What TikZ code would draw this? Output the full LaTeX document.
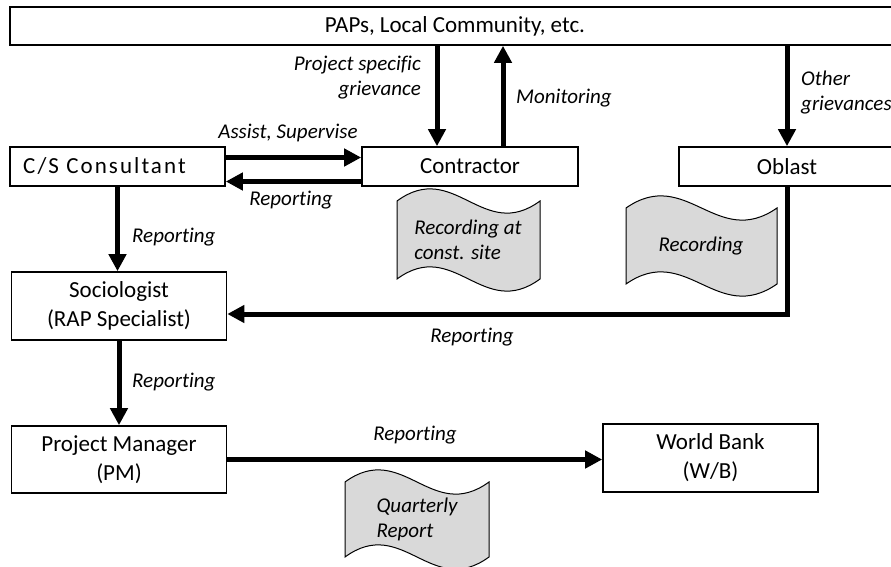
\documentclass[tikz,border=0pt]{standalone}
\usepackage{fontspec}
\setmainfont{Carlito}[Ligatures=CommonOff]
\usetikzlibrary{arrows.meta,calc}
\definecolor{tapegray}{HTML}{D9D9D9}
\newcommand\tapeshape[4]{\draw[tape] (#1,#2) .. controls ({#1+0.4*#3},{#2-42}) and ({#1+0.6*#3},{#2+42}) .. ({#1+#3},#2) -- ({#1+#3},{#2+#4}) .. controls ({#1+0.6*#3},{#2+#4+42}) and ({#1+0.4*#3},{#2+#4-42}) .. (#1,{#2+#4}) -- cycle;}
\begin{document}
\begin{tikzpicture}[x=1pt,y=-1pt,
 box/.style={draw,line width=1.6pt,inner sep=0pt,align=center,font=\fontsize{23}{29}\selectfont},
 lab/.style={inner sep=0pt,align=left,font=\fontsize{21}{25}\selectfont\itshape},
 arr/.style={line width=5pt,-{Triangle[length=17pt,width=17pt]}},
 tape/.style={draw,line width=1pt,fill=tapegray}]
\useasboundingbox[fill=white] (0,0) rectangle (891,567);

% boxes
\node[box,minimum width=890pt,minimum height=38pt] (paps) at (455,26) {PAPs, Local Community, etc.};
\node[box,minimum width=215pt,minimum height=39pt] (cs) at (117.5,166.5) {{\addfontfeature{LetterSpace=9}C/S Consultant}\hspace*{26pt}};
\node[box,minimum width=216pt,minimum height=39pt] (con) at (470,166.5) {Contractor};
\node[box,minimum width=216pt,minimum height=39pt] (obl) at (787,166.5) {Oblast};
\node[box,minimum width=215pt,minimum height=68pt] (soc) at (119,306) {Sociologist\\(RAP Specialist)};
\node[box,minimum width=215pt,minimum height=67pt] (pm) at (119,459.5) {Project Manager\\(PM)};
\node[box,minimum width=215pt,minimum height=68pt] (wb) at (710.5,458) {World Bank\\(W/B)};

% tape documents
\tapeshape{397}{201}{143}{78}
\tapeshape{626}{208}{151}{76}
\tapeshape{345}{482}{144}{75}
\node[lab] (t1) at (468,240) {Recording at\\const. site};
\node[lab] (t2) at (701,246) {Recording};
\node[lab] (t3) at (417,519.5) {Quarterly\\Report};

% arrows
\coordinate (psg) at ([xshift=-33pt]con.north);
\coordinate (mon) at ([xshift=33pt]con.north);
\draw[arr] (psg |- paps.south) -- (psg);
\draw[arr] (mon) -- (mon |- paps.south);
\draw[arr] (obl.north |- paps.south) -- (obl.north);
\draw[arr] ([yshift=9pt]cs.east) -- ([yshift=9pt]con.west);
\draw[arr] ([yshift=-15pt]con.west) -- ([yshift=-15pt]cs.east);
\draw[arr] (cs.south) -- (cs.south |- soc.north);
\draw[arr] (obl.south) |- ([yshift=-8pt]soc.east);
\draw[arr] (soc.south) -- (soc.south |- pm.north);
\draw[arr] (pm.east) -- (pm.east -| wb.west);

% labels
\node[lab,align=right,anchor=east] (lpsg) at (421,77.5) {Project specific\\grievance};
\node[lab,anchor=west] (lmon) at (516,98) {Monitoring};
\node[lab,anchor=west] (loth) at (801,92.5) {Other\\grievances};
\node[lab] (lass) at (288,133) {Assist, Supervise};
\node[lab] (lrep1) at (291,200) {Reporting};
\node[lab,anchor=west] (lrep2) at (132,237) {Reporting};
\node[lab] (lrep3) at (472,337) {Reporting};
\node[lab,anchor=west] (lrep4) at (132,382) {Reporting};
\node[lab] (lrep5) at (415,435) {Reporting};
\end{tikzpicture}
\end{document}
